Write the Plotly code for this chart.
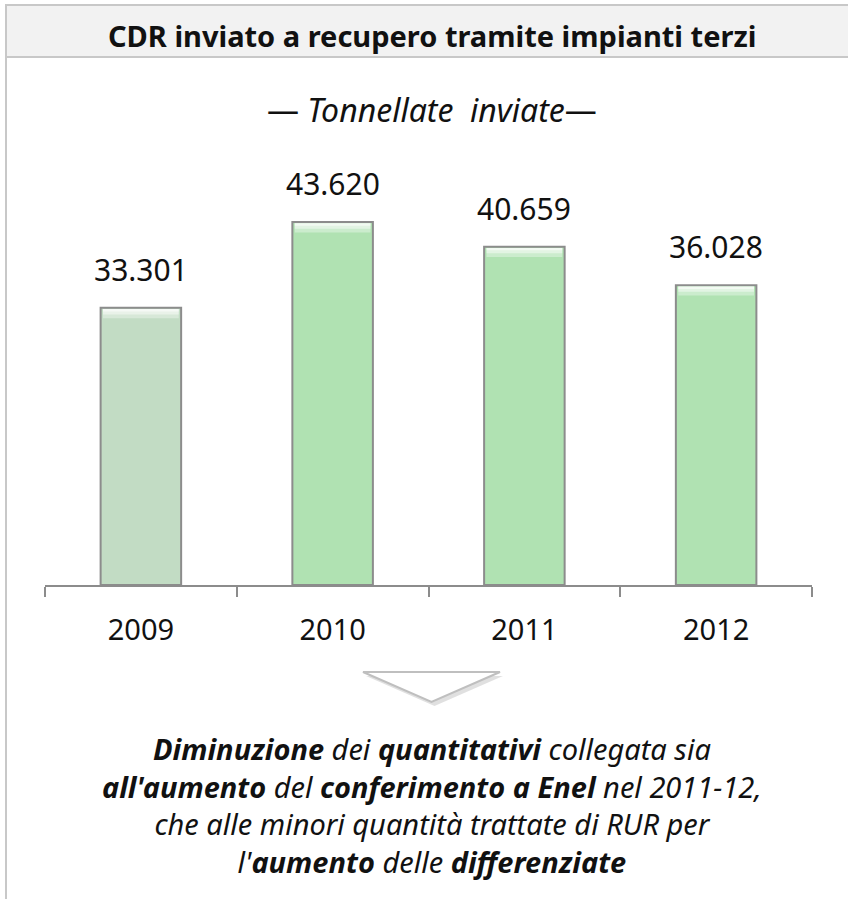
import plotly.graph_objects as go

# Tonnellate di CDR inviate a impianti terzi
anni = ["2009", "2010", "2011", "2012"]
tonnellate = [33301, 43620, 40659, 36028]
colori = ["#c2dcc4", "#b0e2b2", "#b0e2b2", "#b0e2b2"]

W, H = 848, 899
ML, MR, MT, MB = 45, 36, 150, 314
PW, PH = W - ML - MR, H - MT - MB


def px(x):
    return (x - ML) / PW


def py(y):
    return (H - MB - y) / PH


FONT = "Noto Sans"
etichette = [f"{v:,}".replace(",", ".") for v in tonnellate]

fig = go.Figure()
fig.add_trace(go.Bar(
    x=anni, y=tonnellate,
    marker=dict(color=colori, line=dict(color="#8c8c8c", width=2)),
    width=0.42, hoverinfo="skip",
))
# lighter bevel along the top of each bar
for h, a in [(1100, 0.35), (650, 0.45), (300, 0.55)]:
    fig.add_trace(go.Bar(
        x=anni, y=[h] * len(anni), base=[v - h - 150 for v in tonnellate],
        marker=dict(color=f"rgba(255,255,255,{a})", line=dict(width=0)),
        width=0.395, hoverinfo="skip",
    ))

for i, (v, t) in enumerate(zip(tonnellate, etichette)):
    fig.add_annotation(x=i, y=v, xref="x", yref="y", text=t, showarrow=False,
                       yanchor="bottom", yshift=16,
                       font=dict(family=FONT, size=30, color="#111"))

shapes = [
    # header band
    dict(type="rect", xref="paper", yref="paper", x0=px(6), x1=px(850),
         y0=py(57), y1=py(5), fillcolor="#f2f2f2",
         line=dict(color="#c8c8c8", width=2), layer="below"),
    # left frame line
    dict(type="line", xref="paper", yref="paper", x0=px(6), x1=px(6),
         y0=py(5), y1=py(H), line=dict(color="#c8c8c8", width=2)),
]
# downward arrow marker
ax0, ax1, atop, abot = 363, 500, 672, 702
amid = (ax0 + ax1) / 2
shapes.append(dict(
    type="path", xref="paper", yref="paper",
    path=f"M {px(ax0+3)} {py(atop+4)} L {px(ax1+3)} {py(atop+4)} L {px(amid+3)} {py(abot+4)} Z",
    fillcolor="rgba(0,0,0,0.12)", line=dict(width=0)))
shapes.append(dict(
    type="path", xref="paper", yref="paper",
    path=f"M {px(ax0)} {py(atop)} L {px(ax1)} {py(atop)} L {px(amid)} {py(abot)} Z",
    fillcolor="#ffffff", line=dict(color="#bfbfbf", width=2)))

fig.update_layout(shapes=shapes)

fig.add_annotation(xref="paper", yref="paper", x=px(432), y=py(35),
                   yanchor="middle", xanchor="center",
                   text="<b>CDR inviato a recupero tramite impianti terzi</b>",
                   showarrow=False, font=dict(family=FONT, size=29, color="#111"))
fig.add_annotation(xref="paper", yref="paper", x=px(432), y=py(110),
                   yanchor="middle", xanchor="center",
                   text="— <i>Tonnellate&nbsp;&nbsp;inviate</i>—",
                   showarrow=False, font=dict(family=FONT, size=32, color="#111"))

righe = [
    "<b><i>Diminuzione</i></b><i> dei </i><b><i>quantitativi</i></b><i> collegata sia</i>",
    "<b><i>all'aumento</i></b><i> del </i><b><i>conferimento a Enel</i></b><i> nel 2011-12,</i>",
    "<i>che alle minori quantità trattate di RUR per</i>",
    "<i>l'</i><b><i>aumento</i></b><i> delle </i><b><i>differenziate</i></b>",
]
fig.add_annotation(xref="paper", yref="paper", x=px(432), y=py(805),
                   yanchor="middle", xanchor="center", align="center",
                   text="<br>".join(righe), showarrow=False,
                   font=dict(family=FONT, size=29, color="#111"))

fig.update_layout(
    width=W, height=H,
    margin=dict(l=ML, r=MR, t=MT, b=MB),
    paper_bgcolor="white", plot_bgcolor="white",
    showlegend=False, barmode="overlay",
    xaxis=dict(type="category", tickson="boundaries", ticks="outside",
               ticklen=10, tickcolor="#8c8c8c", tickwidth=2,
               showline=True, linecolor="#8c8c8c", linewidth=2,
               showgrid=False, zeroline=False,
               tickfont=dict(family=FONT, size=29, color="#111"),
               ticklabelstandoff=18,
               range=[-0.5, 3.5]),
    yaxis=dict(range=[0, 52270], visible=False, showgrid=False, zeroline=False),
)

fig.write_html("out.html")
